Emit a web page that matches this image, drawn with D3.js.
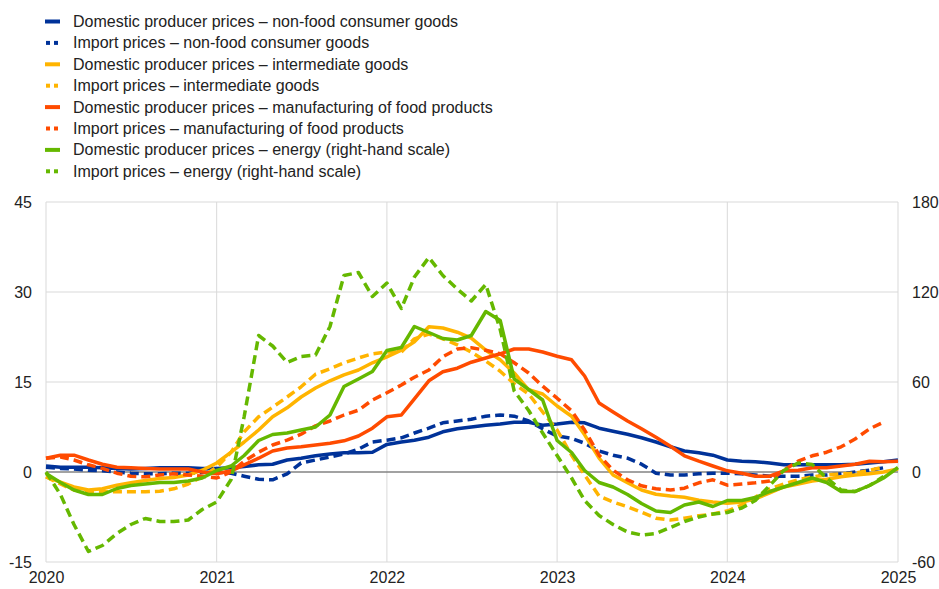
<!DOCTYPE html>
<html><head><meta charset="utf-8">
<script src="https://cdn.jsdelivr.net/npm/d3@7"></script>
<style>
html,body{margin:0;padding:0;background:#fff;}
svg{display:block;font-family:"Liberation Sans",Arial,sans-serif;}
</style></head>
<body><svg id="c" width="939" height="589"></svg>
<script>
// Monthly observations, Jan 2020 onward
const startMonth = "2020-01";
const yearTicks = [2020, 2021, 2022, 2023, 2024, 2025];
const leftTicks = [-15, 0, 15, 30, 45];
const rightTicks = [-60, 0, 60, 120, 180];

const domNonFood = [1.0,0.8,0.8,0.8,0.7,0.6,0.5,0.6,0.7,0.7,0.7,0.6,0.6,0.7,0.9,1.2,1.3,2.0,2.3,2.7,3.0,3.2,3.2,3.3,4.6,5.0,5.3,5.8,6.7,7.2,7.5,7.8,8.0,8.3,8.3,7.8,8.0,8.3,8.2,7.3,6.8,6.3,5.7,5.0,4.2,3.5,3.2,2.8,2.0,1.8,1.7,1.5,1.2,1.2,1.2,1.2,1.2,1.3,1.5,1.7,2.0];
const impNonFood = [0.8,0.6,0.5,0.3,0.2,0.0,-0.2,-0.3,-0.3,-0.2,-0.2,-0.1,0.0,-0.2,-0.7,-1.2,-1.3,-0.3,1.5,2.0,2.5,3.0,3.8,5.0,5.3,5.7,6.5,7.3,8.2,8.5,8.8,9.3,9.5,9.3,8.5,7.2,6.0,5.6,4.8,3.5,2.8,2.3,1.3,-0.2,-0.5,-0.5,-0.3,-0.2,-0.2,-0.3,-0.5,-0.7,-0.7,-0.7,-0.5,-0.5,-0.3,0.0,0.3,0.7];
const domInterm = [-0.8,-1.7,-2.5,-3.0,-2.8,-2.2,-1.8,-1.4,-1.1,-0.9,-0.5,0.3,1.5,3.3,5.0,7.0,9.2,10.7,12.5,14.0,15.2,16.2,17.0,18.2,19.2,20.3,21.7,24.2,24.0,23.3,22.3,20.3,18.7,16.5,13.7,13.0,11.0,9.3,6.2,2.3,-0.5,-1.8,-3.0,-3.7,-4.0,-4.2,-4.7,-5.0,-5.2,-5.0,-4.5,-3.5,-2.5,-2.0,-1.5,-1.2,-0.8,-0.5,-0.3,0.0,0.5];
const impInterm = [-0.8,-2.0,-3.0,-3.3,-3.3,-3.3,-3.3,-3.3,-3.2,-2.8,-2.0,-0.8,0.8,3.3,6.7,9.2,10.8,12.5,14.2,16.3,17.2,18.2,19.0,19.7,20.0,20.0,22.2,23.0,22.2,21.2,20.0,18.5,16.8,14.7,13.0,10.0,7.0,2.8,-0.5,-4.0,-5.0,-5.8,-6.7,-7.7,-8.0,-7.7,-7.3,-7.0,-6.5,-5.5,-4.2,-2.8,-2.0,-1.3,-0.8,-0.5,-0.3,-0.2,0.3,0.8];
const domFood = [2.3,2.8,2.8,2.0,1.3,0.8,0.7,0.6,0.5,0.5,0.5,0.0,-0.3,0.2,1.2,2.3,3.5,4.0,4.2,4.5,4.8,5.2,6.0,7.3,9.2,9.5,12.2,15.2,16.7,17.3,18.3,19.0,19.7,20.5,20.5,20.0,19.3,18.7,16.0,11.5,10.0,8.5,7.2,5.8,4.3,2.7,1.8,1.0,0.2,-0.2,-0.7,-0.7,0.2,0.3,0.7,0.7,1.0,1.3,1.8,1.7,1.8];
const impFood = [2.3,2.5,2.0,1.2,0.6,-0.2,-0.7,-0.8,-0.5,-0.3,-0.5,-0.7,-1.0,0.0,1.8,3.3,4.5,5.3,6.3,7.7,8.5,9.5,10.3,12.0,13.2,14.5,15.8,17.0,19.2,20.5,20.7,20.3,19.7,18.2,16.5,14.3,12.3,10.2,7.0,2.8,0.3,-1.3,-2.3,-2.8,-3.0,-2.7,-1.8,-1.3,-2.2,-2.0,-1.8,-1.5,0.3,1.8,2.7,3.3,4.2,5.5,7.2,8.3];
const domEnergy = [-1,-7,-12,-15,-15,-11,-9,-8,-7,-7,-6,-4,1,4,11,21,25,26,28,30,38,57,62,67,81,83,97,93,89,88,91,107,101,62,55,48,21,13,1,-7,-10,-15,-21,-26,-27,-22,-20,-23,-19,-19,-17,-13,-10,-7,-4,-7,-13,-13,-9,-4,3];
const impEnergy = [0,-15,-35,-53,-49,-41,-35,-31,-33,-33,-32,-25,-20,-5,37,91,84,73,77,78,97,131,133,117,126,109,130,143,131,122,114,125,95,54,41,26,11,-4,-19,-29,-35,-40,-42,-41,-37,-33,-30,-28,-27,-24,-19,-9,1,6,5,-4,-12,-13,-9,-3];

const seriesNames = [
  "Domestic producer prices \u2013 non-food consumer goods",
  "Import prices \u2013 non-food consumer goods",
  "Domestic producer prices \u2013 intermediate goods",
  "Import prices \u2013 intermediate goods",
  "Domestic producer prices \u2013 manufacturing of food products",
  "Import prices \u2013 manufacturing of food products",
  "Domestic producer prices \u2013 energy (right-hand scale)",
  "Import prices \u2013 energy (right-hand scale)"
];
const seriesData = [domNonFood, impNonFood, domInterm, impInterm, domFood, impFood, domEnergy, impEnergy];
const seriesColors = ["#003299","#003299","#ffb400","#ffb400","#ff4b00","#ff4b00","#65b800","#65b800"];
const seriesDashed = [false,true,false,true,false,true,false,true];
const seriesRight = [false,false,false,false,false,false,true,true];

const svg = d3.select("#c");
const L = 46, R = 898, T = 202, B = 562;
const t0 = d3.timeParse("%Y-%m")(startMonth);
const x = d3.scaleTime().domain([new Date(2020,0,1), new Date(2025,0,1)]).range([L, R]);
const yL = d3.scaleLinear().domain([-15, 45]).range([B, T]);
const yR = d3.scaleLinear().domain([-60, 180]).range([B, T]);

// grid
const g = svg.append("g");
g.selectAll("line.h").data(leftTicks).join("line")
  .attr("x1", L).attr("x2", R).attr("y1", d => yL(d)).attr("y2", d => yL(d))
  .attr("stroke", "#d9d9d9").attr("stroke-width", 1);
g.selectAll("line.v").data(yearTicks).join("line")
  .attr("x1", d => x(new Date(d,0,1))).attr("x2", d => x(new Date(d,0,1)))
  .attr("y1", T).attr("y2", B)
  .attr("stroke", "#d9d9d9").attr("stroke-width", 1);
g.append("line").attr("x1", L).attr("x2", R).attr("y1", yL(0)).attr("y2", yL(0))
  .attr("stroke", "#595959").attr("stroke-width", 1);

// axes labels via d3 axes
const fmt = d => String(d);
const axL = d3.axisLeft(yL).tickValues(leftTicks).tickFormat(fmt).tickSize(0).tickPadding(14);
const axR = d3.axisRight(yR).tickValues(rightTicks).tickFormat(fmt).tickSize(0).tickPadding(14);
const axB = d3.axisBottom(x).tickValues(yearTicks.map(d => new Date(d,0,1))).tickFormat(d3.timeFormat("%Y")).tickSize(0).tickPadding(10);
[[axL, `translate(${L},0)`], [axR, `translate(${R},0)`], [axB, `translate(0,${B})`]].forEach(([ax, tr]) => {
  const a = svg.append("g").attr("transform", tr).call(ax);
  a.select(".domain").remove();
  a.selectAll("text").attr("font-size", 16).attr("fill", "#222").attr("font-family", "Liberation Sans, Arial, sans-serif");
});

// lines
seriesData.forEach((vals, i) => {
  const ys = seriesRight[i] ? yR : yL;
  const line = d3.line().x((d, j) => x(d3.timeMonth.offset(t0, j))).y(d => ys(d));
  svg.append("path").datum(vals).attr("d", line)
    .attr("fill", "none").attr("stroke", seriesColors[i]).attr("stroke-width", 3.5)
    .attr("stroke-linejoin", "round")
    .attr("stroke-dasharray", seriesDashed[i] ? "9,5" : null);
});

// legend
const lg = svg.append("g");
seriesNames.forEach((name, i) => {
  const cy = 21.5 + i * 21.4;
  if (seriesDashed[i]) {
    lg.append("rect").attr("x", 46).attr("y", cy - 2).attr("width", 4).attr("height", 4).attr("fill", seriesColors[i]);
    lg.append("rect").attr("x", 54).attr("y", cy - 2).attr("width", 4).attr("height", 4).attr("fill", seriesColors[i]);
  } else {
    lg.append("rect").attr("x", 45).attr("y", cy - 2).attr("width", 15).attr("height", 4).attr("fill", seriesColors[i]);
  }
  lg.append("text").attr("x", 73).attr("y", cy + 5.5).attr("font-size", 16).attr("fill", "#222").text(name);
});
</script></body></html>
